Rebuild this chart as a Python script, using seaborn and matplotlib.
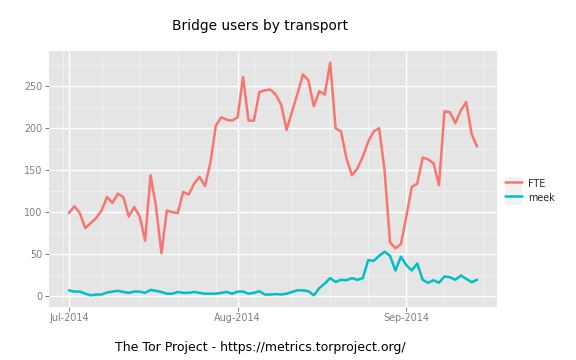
import pandas as pd
import matplotlib
matplotlib.use("Agg")
import matplotlib.pyplot as plt
import matplotlib.dates as mdates
from matplotlib.lines import Line2D
from matplotlib.patches import Patch
from matplotlib.legend_handler import HandlerTuple
from matplotlib.ticker import MultipleLocator
import seaborn as sns

# --- data (daily bridge users) ---
dates = pd.date_range("2014-07-01", "2014-09-14", freq="D")
fte = [99, 107, 99, 81, 87, 93, 102, 118, 111, 122,
       118, 95, 106, 95, 66, 144, 107, 51, 102, 100,
       99, 124, 121, 134, 142, 131, 159, 203, 213, 210,
       209, 213, 261, 209, 209, 243, 245, 246, 240, 228,
       198, 220, 241, 264, 257, 226, 244, 240, 278, 200,
       196, 164, 144, 152, 166, 184, 196, 200, 150, 64,
       57, 62, 95, 130, 134, 165, 163, 158, 132, 220,
       219, 206, 221, 231, 193, 178]
meek = [7, 5.5, 5.5, 3, 1, 2, 2, 4.4, 5.5, 6.4,
        5, 4, 5.5, 5.5, 4, 7.5, 6.4, 5, 3, 3,
        5, 4, 4, 5, 4, 3, 3, 3, 4, 5,
        3, 5.5, 5.5, 3, 4, 6, 2, 2, 2.5, 2,
        3, 5, 7, 7, 6, 1, 9.5, 15, 21.5, 17,
        19.5, 19, 21.5, 19.5, 21.5, 43, 42, 48, 53, 48,
        30.6, 47, 37, 30.6, 39, 19.5, 16, 19, 16, 23.5,
        22.6, 19.5, 24.6, 20.7, 16.7, 19.5]
transports = ["FTE", "meek"]
colors = ["#F8766D", "#00BFC4"]

title = "Bridge users by transport"
caption = "The Tor Project - https://metrics.torproject.org/"

df = pd.DataFrame({
    "date": list(dates) * 2,
    "users": fte + meek,
    "transport": ["FTE"] * len(fte) + ["meek"] * len(meek),
})

# ggplot-like grey theme
sns.set_theme(style="darkgrid", rc={
    "axes.facecolor": "#E5E5E5",
    "figure.facecolor": "white",
    "grid.color": "white",
})
plt.rcParams["font.family"] = ["DejaVu Sans"]

W, H = 576, 360
fig = plt.figure(figsize=(8, 5), dpi=72)
ax = fig.add_axes([48.5 / W, 53 / H, 449 / W, 256 / H])

sns.lineplot(data=df, x="date", y="users", hue="transport",
             palette=colors, linewidth=2.5, ax=ax, legend=False)

# ggplot default 5% expansion
pad_x = (dates[-1] - dates[0]) * 0.05
ax.set_xlim(dates[0] - pad_x, dates[-1] + pad_x)
lo, hi = min(fte + meek), max(fte + meek)
ax.set_ylim(lo - 0.05 * (hi - lo), hi + 0.05 * (hi - lo))

ax.xaxis.set_major_locator(mdates.MonthLocator())
ax.xaxis.set_major_formatter(mdates.DateFormatter("%b-%Y"))
ax.xaxis.set_minor_locator(mdates.WeekdayLocator(byweekday=mdates.MO))
ax.yaxis.set_major_locator(MultipleLocator(50))
ax.yaxis.set_minor_locator(MultipleLocator(25))

ax.grid(which="minor", color="#F2F2F2", linewidth=0.8)
ax.grid(which="major", color="white", linewidth=1.4)
ax.set_axisbelow(True)
for s in ax.spines.values():
    s.set_visible(False)

ax.tick_params(which="major", length=4, width=1, color="#7F7F7F",
               labelcolor="#7F7F7F", labelsize=9.6, pad=2)
ax.tick_params(which="minor", length=0)
ax.tick_params(axis="x", bottom=True)
ax.tick_params(axis="y", left=True)
ax.set_xlabel("")
ax.set_ylabel("")

fig.text(260 / W, 1 - 30 / H, title, ha="center", va="baseline",
         fontsize=13.7, color="black")
fig.text(260 / W, 1 - 351 / H, caption, ha="center", va="baseline",
         fontsize=12.5, color="black")

handles = [(Patch(facecolor="#F2F2F2", edgecolor="none"),
            Line2D([], [], color=c, linewidth=2.5)) for c in colors]
fig.legend(handles, transports, handler_map={tuple: HandlerTuple(ndivide=1, pad=0)},
           loc="center left", bbox_to_anchor=(505 / W, 1 - 191 / H),
           frameon=False, fontsize=9.6, handlelength=1.8, handleheight=1.8,
           handletextpad=0.6, labelspacing=0.1, borderpad=0, borderaxespad=0)

fig.savefig("out.png", dpi=72)
plt.close(fig)
